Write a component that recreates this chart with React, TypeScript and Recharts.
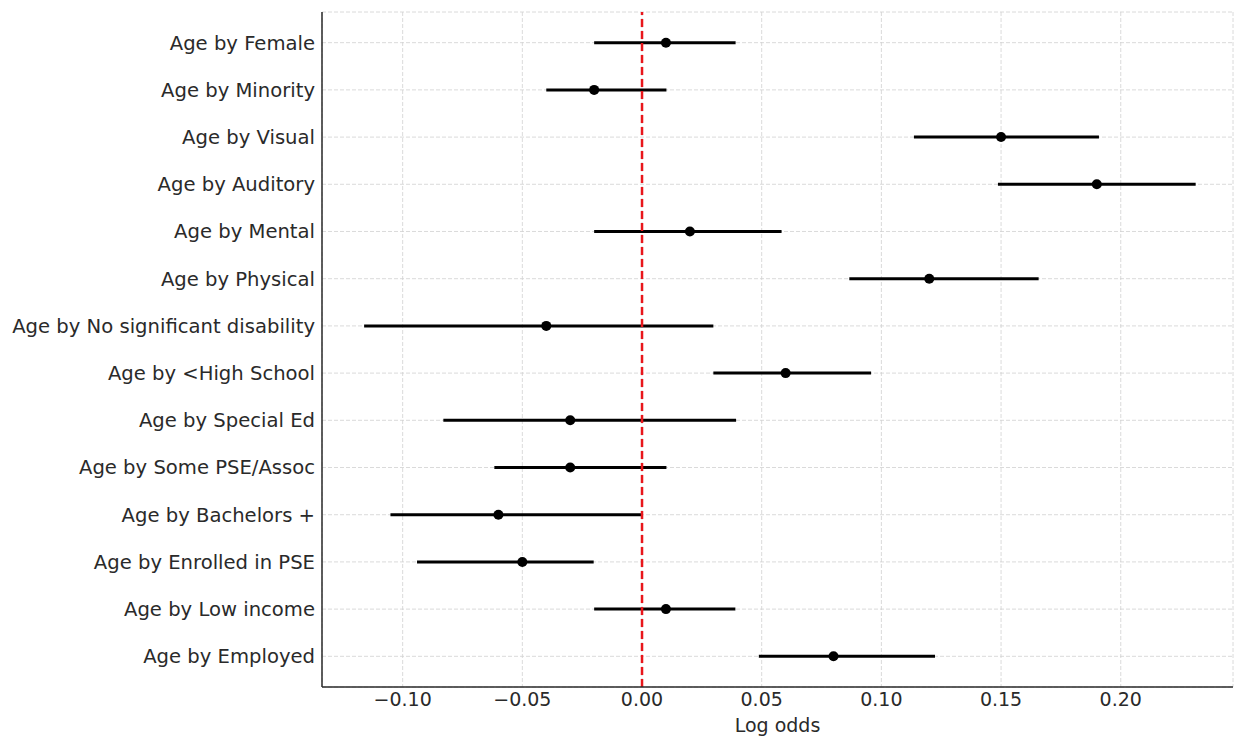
import React from "react";
import {
  ScatterChart,
  Scatter,
  ErrorBar,
  XAxis,
  YAxis,
  CartesianGrid,
  ReferenceLine,
} from "recharts";

const labels = [
  "Age by Female",
  "Age by Minority",
  "Age by Visual",
  "Age by Auditory",
  "Age by Mental",
  "Age by Physical",
  "Age by No significant disability",
  "Age by <High School",
  "Age by Special Ed",
  "Age by Some PSE/Assoc",
  "Age by Bachelors +",
  "Age by Enrolled in PSE",
  "Age by Low income",
  "Age by Employed",
];

const estimates = [0.01, -0.02, 0.15, 0.19, 0.02, 0.12, -0.04, 0.06, -0.03, -0.03, -0.06, -0.05, 0.01, 0.08];
const ciLow = [-0.02, -0.04, 0.1136, 0.1487, -0.02, 0.0866, -0.1161, 0.0298, -0.083, -0.0617, -0.1051, -0.094, -0.02, 0.0488];
const ciHigh = [0.0391, 0.0102, 0.1909, 0.2313, 0.0583, 0.1657, 0.0298, 0.0957, 0.0393, 0.0102, 0.0, -0.0202, 0.039, 0.1224];

const xTicks = [-0.1, -0.05, 0, 0.05, 0.1, 0.15, 0.2];

const FONT = "'DejaVu Sans', sans-serif";
const TEXT = "#2a2a2a";

function fmtX(v: number): string {
  const s = Math.abs(v).toFixed(2);
  return v < 0 ? `\u2212${s}` : s;
}

const data = estimates.map((est, i) => ({
  x: est,
  y: i,
  err: [est - ciLow[i], ciHigh[i] - est],
}));

const Dot = (props: any) => {
  const { cx, cy } = props;
  if (cx == null || cy == null) return null;
  return <circle cx={cx} cy={cy} r={5} fill="#000" />;
};

export default function App() {
  return (
    <div style={{ position: "absolute", left: 0, top: 0, background: "#fff" }}>
      <ScatterChart
        width={1235}
        height={736}
        margin={{ top: 12, right: 2, left: 0, bottom: 0 }}
      >
        <CartesianGrid stroke="#d0d0d0" strokeDasharray="4 2" strokeWidth={0.8} />
        <XAxis
          type="number"
          dataKey="x"
          domain={[-0.1337, 0.2469]}
          ticks={xTicks}
          allowDataOverflow
          tickFormatter={fmtX}
          tick={{ fontSize: 19, fill: TEXT, fontFamily: FONT }}
          tickLine={false}
          tickSize={0}
          tickMargin={6}
          height={49}
          axisLine={{ stroke: TEXT, strokeWidth: 1.5 }}
          label={{
            value: "Log odds",
            position: "insideBottom",
            offset: 4,
            fontSize: 19,
            fill: TEXT,
            fontFamily: FONT,
          }}
        />
        <YAxis
          type="number"
          dataKey="y"
          reversed
          domain={[-0.65, 13.65]}
          ticks={labels.map((_, i) => i)}
          interval={0}
          allowDataOverflow
          tickFormatter={(v: number) => labels[v] ?? ""}
          tick={{ fontSize: 19.6, fill: TEXT, fontFamily: FONT }}
          tickLine={false}
          tickSize={0}
          tickMargin={7}
          width={322}
          axisLine={{ stroke: TEXT, strokeWidth: 1.5 }}
        />
        <Scatter data={data} shape={Dot} isAnimationActive={false}>
          <ErrorBar
            dataKey="err"
            direction="x"
            width={0}
            stroke="#000"
            strokeWidth={3}
            isAnimationActive={false}
          />
        </Scatter>
        <ReferenceLine x={0} stroke="#e8161b" strokeWidth={2.5} strokeDasharray="8 4" />
      </ScatterChart>
    </div>
  );
}
